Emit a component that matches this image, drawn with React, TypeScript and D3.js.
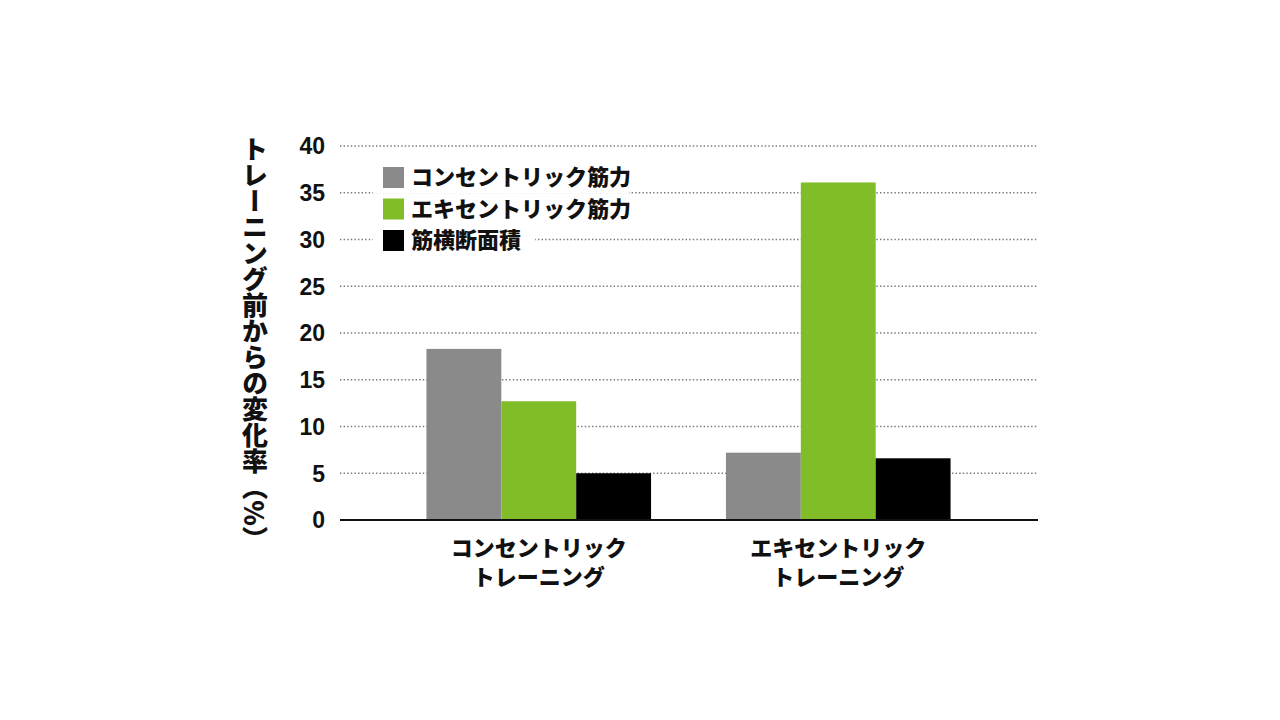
import React from "react";
import * as d3 from "d3";

const groups = ["コンセントリック\nトレーニング", "エキセントリック\nトレーニング"];
const seriesNames = ["コンセントリック筋力", "エキセントリック筋力", "筋横断面積"];
const seriesColors = ["#8a8a8a", "#80bd28", "#000000"];
const concentricStrength = [18.3, 7.2];
const eccentricStrength = [12.7, 36.1];
const crossSection = [5.0, 6.6];
const yTicks = [0, 5, 10, 15, 20, 25, 30, 35, 40];
const yTitle = "トレーニング前からの変化率（%）";

const seriesValues = [concentricStrength, eccentricStrength, crossSection];

const JP = "'Noto Sans CJK JP', 'Noto Sans', sans-serif";
const NUM = "'Liberation Sans', Arial, sans-serif";

export default function App() {
  const W = 1280, H = 720;
  const axisLeft = 340, axisRight = 1038;
  const y = d3.scaleLinear().domain([0, 40]).range([520, 146]);
  const x0 = d3.scaleBand<number>().domain(groups.map((_, i) => i)).range([389, 988]).paddingInner(0.25).paddingOuter(0.125);
  const x1 = d3.scaleBand<number>().domain(seriesNames.map((_, i) => i)).range([0, x0.bandwidth()]).padding(0);

  const legendX = 383, legendY0 = 167, legendStep = 31.5, sw = 21;
  const legendWidths = [256, 256, 162];

  return (
    <svg width={W} height={H} style={{ position: "absolute", left: 0, top: 0, background: "#fff" }}>
      <rect x={0} y={0} width={W} height={H} fill="#fff" />
      {yTicks.filter(t => t > 0).map(t => (
        <line key={t} x1={axisLeft} x2={axisRight} y1={y(t)} y2={y(t)} stroke="#777" strokeWidth={1.4} strokeDasharray="1.4 2.2" />
      ))}
      {yTicks.map(t => (
        <text key={t} x={325} y={y(t)} dy="0.36em" textAnchor="end" fontFamily={NUM} fontWeight={700} fontSize={23} fill="#111">{t}</text>
      ))}
      {groups.map((g, gi) => (
        <g key={gi} transform={`translate(${x0(gi)},0)`}>
          {seriesValues.map((vals, si) => (
            <rect key={si} x={x1(si)} y={y(vals[gi])} width={x1.bandwidth()} height={y(0) - y(vals[gi])} fill={seriesColors[si]} />
          ))}
        </g>
      ))}
      <line x1={axisLeft} x2={axisRight} y1={y(0)} y2={y(0)} stroke="#111" strokeWidth={2} />
      {groups.map((g, gi) => {
        const cx = (x0(gi) as number) + x0.bandwidth() / 2;
        return g.split("\n").map((line, li) => (
          <text key={gi + "-" + li} x={cx} y={556 + li * 29} textAnchor="middle" fontFamily={JP} fontWeight={900} fontSize={22} fill="#111">{line}</text>
        ));
      })}
      {seriesNames.map((name, i) => {
        const top = legendY0 + i * legendStep;
        return (
          <g key={i}>
            <rect x={legendX - 10} y={top - 5} width={legendWidths[i]} height={legendStep} fill="#fff" />
            <rect x={legendX} y={top} width={sw} height={sw} fill={seriesColors[i]} />
            <text x={legendX + 28} y={top + sw / 2} dy="0.36em" fontFamily={JP} fontWeight={900} fontSize={22} fill="#111">{name}</text>
          </g>
        );
      })}
      <text x={255} y={344} textAnchor="middle" fontFamily={JP} fontWeight={900} fontSize={26} fill="#111"
        style={{ writingMode: "vertical-rl" as any }}>{yTitle}</text>
    </svg>
  );
}
